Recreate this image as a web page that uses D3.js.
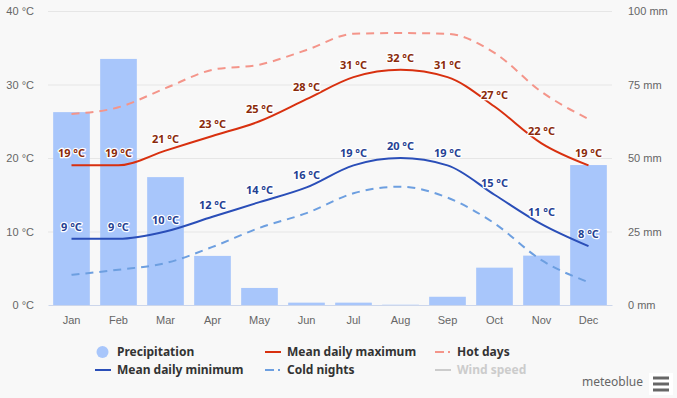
<!DOCTYPE html>
<html>
<head>
<meta charset="utf-8">
<script src="https://cdn.jsdelivr.net/npm/d3@7"></script>
<style>
  body { margin: 0; background: #f8f8f8; }
  svg { font-family: "Noto Sans", "Open Sans", sans-serif; }
  .axis text { fill: #666; font-size: 11px; }
  .lbl { font-size: 11px; font-weight: bold; paint-order: stroke; stroke: #fff; stroke-width: 2.5px; stroke-linejoin: round; }
  .legend text { font-size: 12px; font-weight: bold; fill: #333; }
</style>
</head>
<body>
<div id="chart"></div>
<script>
const months = ['Jan', 'Feb', 'Mar', 'Apr', 'May', 'Jun', 'Jul', 'Aug', 'Sep', 'Oct', 'Nov', 'Dec'];
const precipitation = [65.6, 83.7, 43.5, 16.7, 5.8, 0.8, 0.8, 0.1, 2.8, 12.7, 16.8, 47.6];
const meanMax = [19, 19, 21, 23, 25, 28, 31, 32, 31, 27, 22, 19];
const meanMin = [9, 9, 10, 12, 14, 16, 19, 20, 19, 15, 11, 8];
const hotDays = [26, 26.9, 29.5, 32, 32.7, 34.7, 36.9, 37, 36.9, 34.3, 29, 25.3];
const coldNights = [4.1, 4.8, 5.7, 7.9, 10.5, 12.5, 15.2, 16.1, 14.6, 11.1, 6.1, 3.1];
const tempTicks = [0, 10, 20, 30, 40];
const precipTicks = [0, 25, 50, 75, 100];

const W = 677, H = 398;
const margin = { top: 11, right: 65, bottom: 93, left: 48 };
const width = W - margin.left - margin.right;
const height = H - margin.top - margin.bottom;

const svg = d3.select('#chart').append('svg').attr('width', W).attr('height', H);
const plot = svg.append('g').attr('transform', `translate(${margin.left},${margin.top})`);

const x = d3.scaleBand().domain(months).range([0, width]).paddingInner(0.22).paddingOuter(0.11);
const xc = (i) => x(months[i]) + x.bandwidth() / 2;
const yT = d3.scaleLinear().domain([0, 40]).range([height, 0]);
const yP = d3.scaleLinear().domain([0, 100]).range([height, 0]);

// grid
plot.append('g').selectAll('line').data(tempTicks.slice(1)).join('line')
  .attr('x1', 0).attr('x2', width)
  .attr('y1', (d) => yT(d) + 0.5).attr('y2', (d) => yT(d) + 0.5)
  .attr('stroke', '#e6e6e6');

// left axis
const yAxisL = d3.axisLeft(yT).tickValues(tempTicks).tickSize(0).tickPadding(14).tickFormat((d) => `${d} °C`);
plot.append('g').attr('class', 'axis').call(yAxisL).call((g) => g.select('.domain').remove())
  .selectAll('text').attr('dy', '0.35em');

// right axis
const yAxisR = d3.axisRight(yP).tickValues(precipTicks).tickSize(0).tickPadding(16).tickFormat((d) => `${d} mm`);
plot.append('g').attr('class', 'axis').attr('transform', `translate(${width},0)`).call(yAxisR)
  .call((g) => g.select('.domain').remove())
  .selectAll('text').attr('dy', '0.35em');

// bars
plot.append('g').selectAll('rect').data(precipitation).join('rect')
  .attr('x', (d, i) => x(months[i]))
  .attr('width', x.bandwidth())
  .attr('y', (d) => yP(d))
  .attr('height', (d) => height - yP(d))
  .attr('fill', '#a8c6fb');

// x axis
const xAxis = d3.axisBottom(x).tickSize(0).tickPadding(11);
plot.append('g').attr('class', 'axis').attr('transform', `translate(0,${height})`).call(xAxis)
  .call((g) => g.select('.domain').attr('stroke', '#ccd6eb'))
  .selectAll('text').style('font-size', '11px');

const line = (ys) => d3.line().x((d, i) => xc(i)).y((d) => ys(d)).curve(d3.curveMonotoneX);

const series = [
  { values: hotDays, color: '#f4958a', dash: '8,6' },
  { values: coldNights, color: '#6d9fe0', dash: '8,6' },
  { values: meanMax, color: '#d8300f', dash: null },
  { values: meanMin, color: '#2a4eb8', dash: null },
];
plot.append('g').selectAll('path').data(series).join('path')
  .attr('d', (d) => line(yT)(d.values))
  .attr('fill', 'none')
  .attr('stroke', (d) => d.color)
  .attr('stroke-width', 2)
  .attr('stroke-dasharray', (d) => d.dash);

// value labels
const labels = [
  { values: meanMax, color: '#8a2a0a' },
  { values: meanMin, color: '#243f93' },
];
labels.forEach((s) => {
  plot.append('g').selectAll('text').data(s.values).join('text')
    .attr('class', 'lbl')
    .attr('x', (d, i) => xc(i))
    .attr('y', (d) => yT(d) - 8)
    .attr('text-anchor', 'middle')
    .attr('fill', s.color)
    .text((d) => `${d} °C`);
});

// legend
const legendItems = [
  { name: 'Precipitation', type: 'circle', color: '#a8c6fb', x: 95, y: 352 },
  { name: 'Mean daily maximum', type: 'line', color: '#d8300f', x: 265, y: 352 },
  { name: 'Hot days', type: 'dash', color: '#f4958a', x: 435, y: 352 },
  { name: 'Mean daily minimum', type: 'line', color: '#2a4eb8', x: 95, y: 370 },
  { name: 'Cold nights', type: 'dash', color: '#6d9fe0', x: 265, y: 370 },
  { name: 'Wind speed', type: 'line', color: '#cccccc', x: 435, y: 370, hidden: true },
];
const legend = svg.append('g').attr('class', 'legend');
legendItems.forEach((d) => {
  const g = legend.append('g').attr('transform', `translate(${d.x},${d.y})`);
  if (d.type === 'circle') {
    g.append('circle').attr('cx', 7.5).attr('cy', 0).attr('r', 6).attr('fill', d.color);
  } else if (d.type === 'line') {
    g.append('line').attr('x1', 0).attr('x2', 16).attr('y1', 0).attr('y2', 0)
      .attr('stroke', d.color).attr('stroke-width', 2);
  } else {
    g.append('line').attr('x1', 0).attr('x2', 16).attr('y1', 0).attr('y2', 0)
      .attr('stroke', d.color).attr('stroke-width', 2).attr('stroke-dasharray', '9,4,2,10');
  }
  g.append('text').attr('x', 22).attr('dy', '0.35em').text(d.name)
    .style('fill', d.hidden ? '#cccccc' : null);
});

// credits and menu
svg.append('text').attr('x', 643).attr('y', 386).attr('text-anchor', 'end')
  .style('font-size', '12px').attr('fill', '#666').text('meteoblue');
svg.append('rect').attr('x', 649).attr('y', 373).attr('width', 24).attr('height', 22).attr('fill', '#fff');
svg.append('g').selectAll('line').data([0, 1, 2]).join('line')
  .attr('x1', 653).attr('x2', 669)
  .attr('y1', (d) => 378 + d * 6).attr('y2', (d) => 378 + d * 6)
  .attr('stroke', '#666').attr('stroke-width', 3);
</script>
</body>
</html>
